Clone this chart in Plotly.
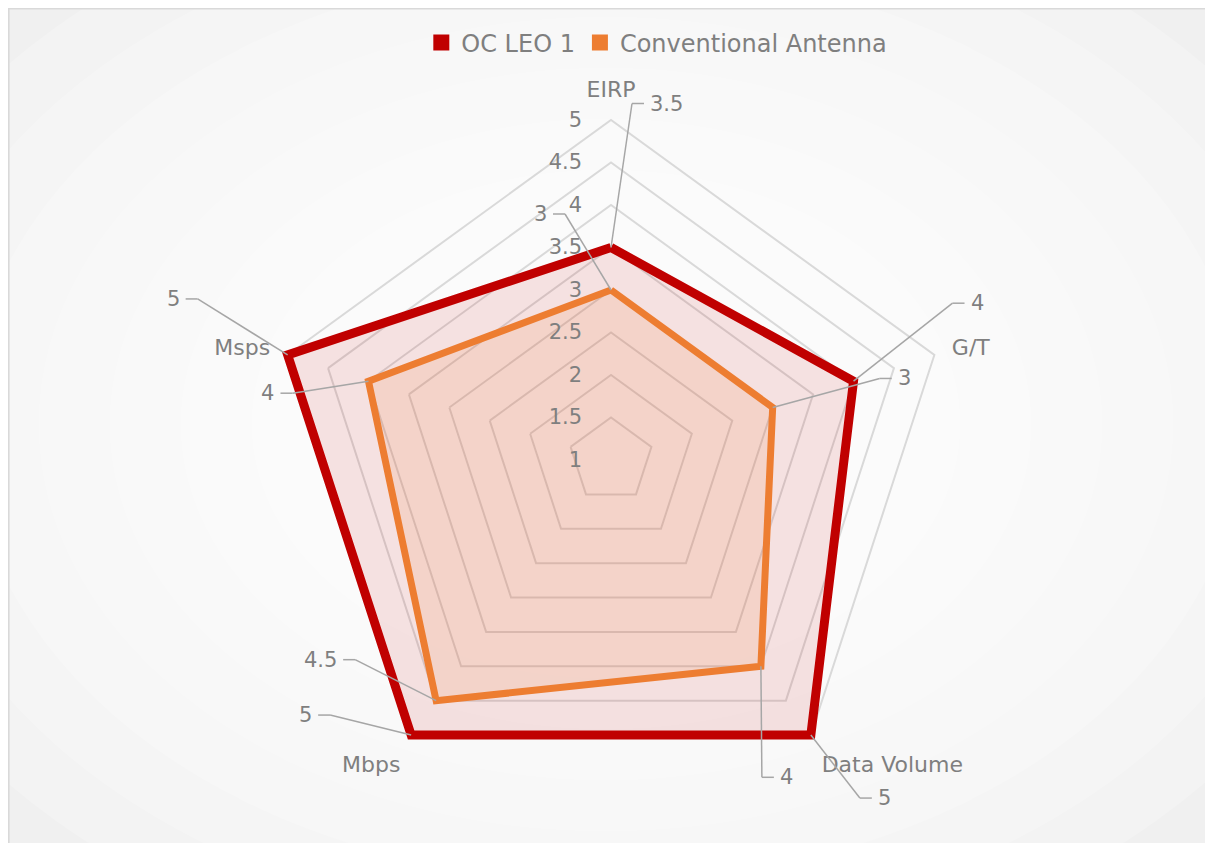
import math
import plotly.graph_objects as go

# ---------------- data ----------------
categories = ["EIRP", "G/T", "Data Volume", "Mbps", "Msps"]
oc_leo_1 = [3.5, 4, 5, 5, 5]
conventional = [3, 3, 4, 4.5, 4]
series_names = ["OC LEO 1", "Conventional Antenna"]
radial_min, radial_max, radial_step = 1, 5, 0.5

# ---------------- style ----------------
OFF = 8                              # page body margin
W, H = 1213 - OFF, 843 - OFF
CX, CY, R = 611 - OFF, 460 - OFF, 340   # centre / radius (value 5) in px
RANGE_PAD = 0.1                      # room so thick outer lines are not clipped
R_TOTAL = R * (radial_max + RANGE_PAD - radial_min) / (radial_max - radial_min)
RED, ORANGE = "#C00000", "#ED7D31"
GREY_TXT = "#7F7F7F"
GRID = "#D9D9D9"
LEADER = "#A6A6A6"
FONT = "DejaVu Sans"

# label leader offsets (elbow relative to point, px) and side of horizontal tick
oc_label_layout = [(21, -144, 1), (99, -78, 1), (49, 63, 1), (-81, -20, -1), (-90, -56, -1)]
conv_label_layout = [(-46, -76, -1), (107, -29, 1), (1, 111, 1), (-81, -41, -1), (-76, 12, -1)]


def px_of(value, k):
    n = len(categories)
    ang = math.radians(90 - 360.0 / n * k)
    rr = (value - radial_min) / (radial_max - radial_min) * R
    return CX + rr * math.cos(ang), CY - rr * math.sin(ang)


def to_paper(x, y):
    return x / W, 1 - y / H


fig = go.Figure()

fig.add_trace(go.Scatterpolar(
    r=oc_leo_1 + oc_leo_1[:1], theta=categories + categories[:1],
    mode="lines", fill="toself", fillcolor="rgba(192,0,0,0.10)",
    line=dict(color=RED, width=9), showlegend=False, name=series_names[0]))
fig.add_trace(go.Scatterpolar(
    r=conventional + conventional[:1], theta=categories + categories[:1],
    mode="lines", fill="toself", fillcolor="rgba(237,125,49,0.13)",
    line=dict(color=ORANGE, width=7), showlegend=False, name=series_names[1]))

# legend entries
for nm, col in zip(series_names, [RED, ORANGE]):
    fig.add_trace(go.Scatterpolar(r=[None], theta=[None], mode="markers", name=nm,
                                  marker=dict(symbol="square", size=16, color=col)))

shapes = []
# background gradient
shapes.append(dict(type="rect", xref="paper", yref="paper", x0=0, x1=1,
                   y0=0, y1=1, fillcolor="#F0F0F0", line=dict(width=0), layer="below"))
n_layers = 10
for i in range(n_layers):
    s = 1 - i / (n_layers + 1)
    a, b = 780 * s, 560 * s
    cx, cy = 598, 416
    x0, y0 = to_paper(cx - a, cy + b)
    x1, y1 = to_paper(cx + a, cy - b)
    shapes.append(dict(type="circle", xref="paper", yref="paper", x0=x0, x1=x1, y0=y0, y1=y1,
                       fillcolor="rgba(255,255,255,0.2)", line=dict(width=0), layer="below"))
# chart border (top and left visible)
shapes.append(dict(type="line", xref="paper", yref="paper", x0=0.8 / W, x1=0.8 / W,
                   y0=0, y1=1, line=dict(color=GRID, width=1.6), layer="below"))
shapes.append(dict(type="line", xref="paper", yref="paper", x0=0, x1=1,
                   y0=1 - 0.8 / H, y1=1 - 0.8 / H, line=dict(color=GRID, width=1.6), layer="below"))

annotations = []
for values, lay in [(oc_leo_1, oc_label_layout), (conventional, conv_label_layout)]:
    for k, v in enumerate(values):
        px, py = px_of(v, k)
        dx, dy, side = lay[k]
        ex, ey = px + dx, py + dy
        hx = ex + side * 12
        p0 = to_paper(px, py)
        p1 = to_paper(ex, ey)
        p2 = to_paper(hx, ey)
        shapes.append(dict(type="line", xref="paper", yref="paper", x0=p0[0], y0=p0[1],
                           x1=p1[0], y1=p1[1], line=dict(color=LEADER, width=1.5), layer="above"))
        shapes.append(dict(type="line", xref="paper", yref="paper", x0=p1[0], y0=p1[1],
                           x1=p2[0], y1=p2[1], line=dict(color=LEADER, width=1.5), layer="above"))
        tx, ty = to_paper(hx + side * 4, ey)
        annotations.append(dict(xref="paper", yref="paper", x=tx, y=ty, showarrow=False,
                                text=f"{v:g}", xanchor="left" if side > 0 else "right",
                                yanchor="middle", font=dict(family=FONT, size=21, color=GREY_TXT)))

fig.update_layout(
    width=W, height=H,
    margin=dict(l=0, r=0, t=0, b=0),
    paper_bgcolor="white",
    font=dict(family=FONT, color=GREY_TXT),
    polar=dict(
        domain=dict(x=[(CX - R_TOTAL) / W, (CX + R_TOTAL) / W],
                    y=[1 - (CY + R_TOTAL) / H, 1 - (CY - R_TOTAL) / H]),
        bgcolor="rgba(0,0,0,0)",
        gridshape="linear",
        radialaxis=dict(range=[radial_min, radial_max + RANGE_PAD], tick0=radial_min,
                        dtick=radial_step, angle=90, side="counterclockwise", tickangle=90,
                        showline=False, ticks="outside", ticklen=21,
                        tickcolor="rgba(0,0,0,0)", gridcolor=GRID, gridwidth=1.5,
                        tickfont=dict(family=FONT, size=21, color=GREY_TXT)),
        angularaxis=dict(rotation=90, direction="clockwise", showgrid=False,
                         showline=False, ticks="outside", ticklen=5,
                         tickcolor="rgba(0,0,0,0)",
                         tickfont=dict(family=FONT, size=22, color=GREY_TXT)),
    ),
    legend=dict(orientation="h", x=0.343, xanchor="left", y=1 - 35 / H, yanchor="middle",
                font=dict(family=FONT, size=24, color=GREY_TXT), bgcolor="rgba(0,0,0,0)"),
    shapes=shapes,
    annotations=annotations,
)

fig.write_html("out.html")
